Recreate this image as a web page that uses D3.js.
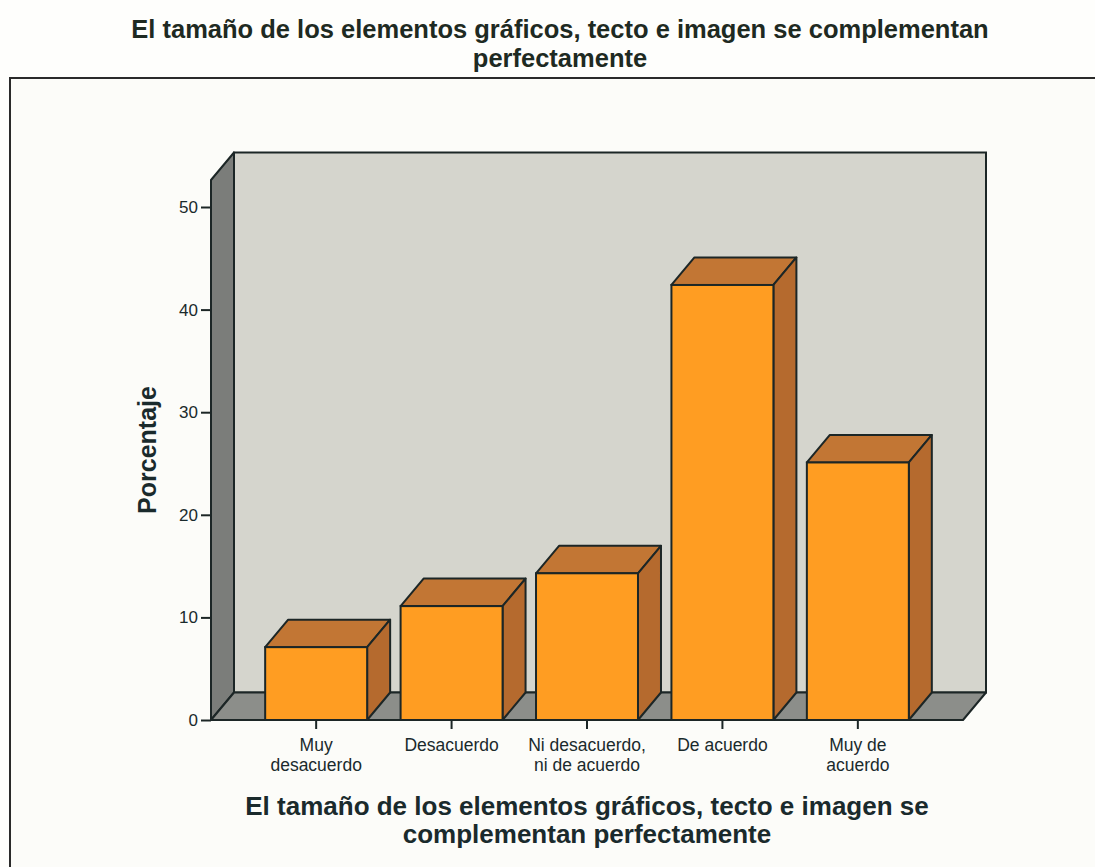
<!DOCTYPE html>
<html><head><meta charset="utf-8">
<script src="https://cdn.jsdelivr.net/npm/d3@7"></script>
<style>body{margin:0;background:#fefefc;}svg{display:block;font-family:Arial,"Liberation Sans",sans-serif;}</style>
</head><body>
<script>
const categories = [["Muy","desacuerdo"],["Desacuerdo"],["Ni desacuerdo,","ni de acuerdo"],["De acuerdo"],["Muy de","acuerdo"]];
const values = [7.1, 11.1, 14.3, 42.4, 25.1];
const yTicks = [0, 10, 20, 30, 40, 50];
const titleLines = ["El tamaño de los elementos gráficos, tecto e imagen se complementan","perfectamente"];
const xTitleLines = ["El tamaño de los elementos gráficos, tecto e imagen se","complementan perfectamente"];
const yTitle = "Porcentaje";

const W = 1095, H = 867;
const svg = d3.select("body").append("svg").attr("width", W).attr("height", H);

// layout
const x0 = 211, x1 = 963, yBase = 720, wallTop = 180;
const dx = 23, dy = -27.5;
const ink = "#1c2626";
const txt = "#1a2a2c";

const y = d3.scaleLinear().domain([0, 50]).range([yBase, 207]);
const x = d3.scaleBand().domain(d3.range(categories.length)).range([x0, x1]).paddingInner(0.247).paddingOuter(0.4);

// outer frame
svg.append("rect").attr("x", 10).attr("y", 78).attr("width", W).attr("height", H)
  .attr("fill", "#fcfcf9").attr("stroke", "#2a2a2a").attr("stroke-width", 2);

// titles
svg.append("g").selectAll("text").data(titleLines).join("text")
  .attr("x", 560).attr("y", (d, i) => 38 + i * 29).attr("text-anchor", "middle")
  .attr("font-size", 25.5).attr("font-weight", "bold").attr("fill", "#1e2a22").text(d => d);

// back wall
svg.append("rect").attr("x", x0 + dx).attr("y", wallTop + dy).attr("width", x1 - x0).attr("height", yBase - wallTop)
  .attr("fill", "#d5d5cd").attr("stroke", ink).attr("stroke-width", 2);
// left wall
svg.append("polygon").attr("points", [[x0, wallTop], [x0 + dx, wallTop + dy], [x0 + dx, yBase + dy], [x0, yBase]].join(" "))
  .attr("fill", "#7b7d7a").attr("stroke", ink).attr("stroke-width", 2).attr("stroke-linejoin", "round");
// floor
svg.append("polygon").attr("points", [[x0, yBase], [x0 + dx, yBase + dy], [x1 + dx, yBase + dy], [x1, yBase]].join(" "))
  .attr("fill", "#8c8e8a").attr("stroke", ink).attr("stroke-width", 2).attr("stroke-linejoin", "round");

// bars
const bars = svg.append("g").selectAll("g").data(values).join("g");
bars.append("polygon").attr("points", (d, i) => {
  const l = x(i), r = l + x.bandwidth(), t = y(d);
  return [[l, t], [l + dx, t + dy], [r + dx, t + dy], [r, t]].join(" ");
}).attr("fill", "#c27634").attr("stroke", ink).attr("stroke-width", 2).attr("stroke-linejoin", "round");
bars.append("polygon").attr("points", (d, i) => {
  const r = x(i) + x.bandwidth(), t = y(d);
  return [[r, t], [r + dx, t + dy], [r + dx, yBase + dy], [r, yBase]].join(" ");
}).attr("fill", "#b56a2e").attr("stroke", ink).attr("stroke-width", 2).attr("stroke-linejoin", "round");
bars.append("rect").attr("x", (d, i) => x(i)).attr("y", d => y(d)).attr("width", x.bandwidth()).attr("height", d => yBase - y(d))
  .attr("fill", "#ff9d22").attr("stroke", ink).attr("stroke-width", 2);

// y axis
const yAxis = svg.append("g").attr("transform", `translate(${x0},0)`)
  .call(d3.axisLeft(y).tickValues(yTicks).tickSize(10).tickPadding(3));
yAxis.select(".domain").remove();
yAxis.selectAll("line").attr("stroke", ink).attr("stroke-width", 2);
yAxis.selectAll("text").attr("font-size", 17).attr("fill", txt).attr("font-family", "Arial, Liberation Sans, sans-serif");

// x axis
const xAxis = svg.append("g").attr("transform", `translate(0,${yBase})`)
  .call(d3.axisBottom(x).tickSize(9).tickFormat(""));
xAxis.select(".domain").remove();
xAxis.selectAll("line").attr("stroke", ink).attr("stroke-width", 2);
xAxis.selectAll(".tick").each(function (d, i) {
  d3.select(this).append("text").attr("text-anchor", "middle").attr("fill", txt)
    .attr("font-size", 17.5).attr("font-family", "Arial, Liberation Sans, sans-serif")
    .selectAll("tspan").data(categories[i]).join("tspan")
    .attr("x", 0).attr("y", (t, j) => 31 + j * 19.5).text(t => t);
});

// axis titles
svg.append("text").attr("transform", "translate(156,450) rotate(-90)").attr("text-anchor", "middle")
  .attr("font-size", 25).attr("font-weight", "bold").attr("fill", txt).text(yTitle);
svg.append("g").selectAll("text").data(xTitleLines).join("text")
  .attr("x", 587).attr("y", (d, i) => 815 + i * 28).attr("text-anchor", "middle")
  .attr("font-size", 26).attr("font-weight", "bold").attr("fill", txt).text(d => d);
</script>
</body></html>
